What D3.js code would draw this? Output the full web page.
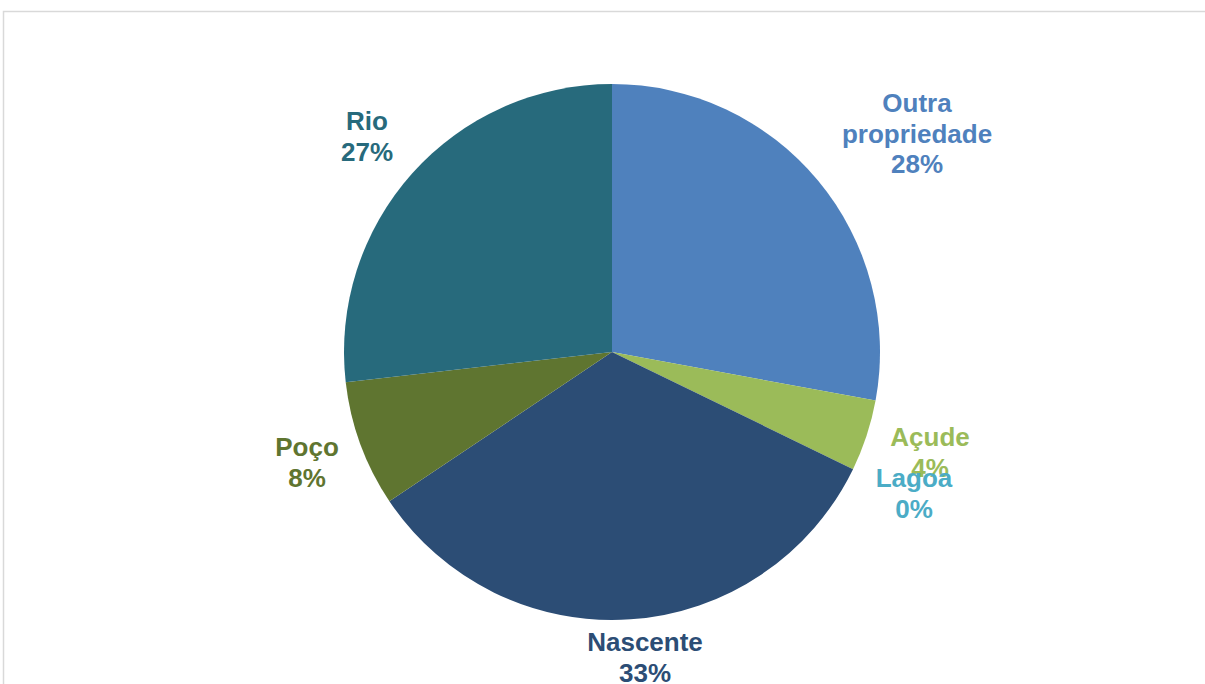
<!DOCTYPE html>
<html><head><meta charset="utf-8">
<script src="https://cdn.jsdelivr.net/npm/d3@7/dist/d3.min.js"></script>
<style>html,body{margin:0;padding:0;background:#fff;}svg{display:block;}</style>
</head><body>
<svg id="c" width="1205" height="684"></svg>
<script>
const categories = ["Outra propriedade", "Açude", "Lagoa", "Nascente", "Poço", "Rio"];
const values = [27.9, 4.3, 0, 33.4, 7.6, 26.8];
const pctLabels = ["28%", "4%", "0%", "33%", "8%", "27%"];
const colors = ["#4f81bd", "#9bbb59", "#4bacc6", "#2c4d75", "#5f7530", "#276a7c"];
const labelLines = [["Outra", "propriedade"], ["Açude"], ["Lagoa"], ["Nascente"], ["Poço"], ["Rio"]];
const labelPos = [[917, 103], [930, 437], [914, 478], [645, 642], [307, 447], [367, 121]];

const svg = d3.select("#c");
svg.append("rect").attr("x", 3.5).attr("y", 11.5).attr("width", 1300).attr("height", 1000)
  .attr("fill", "#fff").attr("stroke", "#d9d9d9").attr("stroke-width", 1.5);

const cx = 612, cy = 352, r = 268;
const data = categories.map((c, i) => ({c, v: values[i], i}));
const pie = d3.pie().value(d => d.v).sort(null);
const arc = d3.arc().innerRadius(0).outerRadius(r);
const g = svg.append("g").attr("transform", `translate(${cx},${cy})`);
g.selectAll("path").data(pie(data)).join("path")
  .attr("d", arc).attr("fill", d => colors[d.data.i]);

const lg = svg.append("g");
data.forEach((d, i) => {
  const lines = labelLines[i].concat([pctLabels[i]]);
  const t = lg.append("text").attr("text-anchor", "middle")
    .attr("font-family", "Liberation Sans, Arial, sans-serif")
    .attr("font-weight", "bold").attr("font-size", 26)
    .attr("fill", colors[i]);
  lines.forEach((l, k) => {
    t.append("tspan").attr("x", labelPos[i][0]).attr("y", labelPos[i][1] + k * 30.5)
      .attr("dy", "0.35em").text(l);
  });
});
</script>
</body></html>
